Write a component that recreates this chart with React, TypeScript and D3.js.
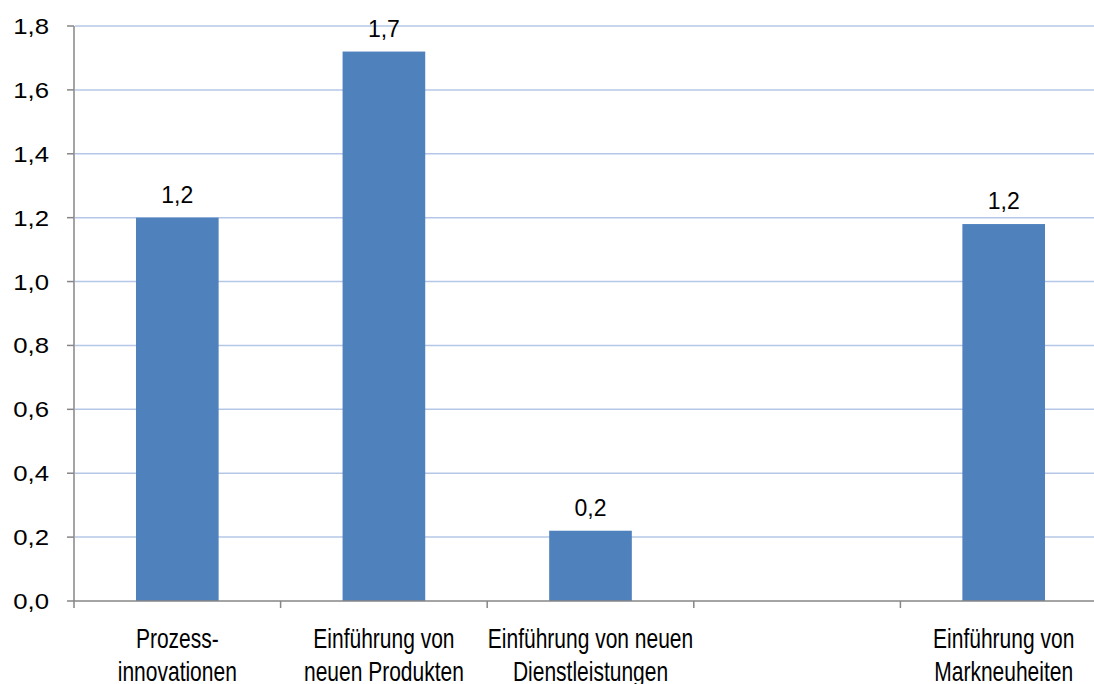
import React from "react";
import * as d3 from "d3";

const categories: string[][] = [
  ["Prozess-", "innovationen"],
  ["Einführung von", "neuen Produkten"],
  ["Einführung von neuen", "Dienstleistungen"],
  [""],
  ["Einführung von", "Markneuheiten"],
];
const values: (number | null)[] = [1.2, 1.72, 0.22, null, 1.18];
const valueLabels: string[] = ["1,2", "1,7", "0,2", "", "1,2"];
const yTicks: number[] = [0, 0.2, 0.4, 0.6, 0.8, 1.0, 1.2, 1.4, 1.6, 1.8];

const W = 1094;
const H = 684;
const left = 74;
const right = 1107;
const top = 26;
const bottom = 601;

export default function App() {
  const idx = categories.map((_, i) => i);
  const x = d3
    .scaleBand<number>()
    .domain(idx)
    .range([left, right])
    .paddingInner(0.6)
    .paddingOuter(0.3);
  const step = (right - left) / categories.length;
  const y = d3.scaleLinear().domain([0, 1.8]).range([bottom, top]);
  const fmt = (v: number) => d3.format(".1f")(v).replace(".", ",");
  const font = "'Liberation Sans', Arial, sans-serif";

  return (
    <svg
      width={W}
      height={H}
      style={{ position: "absolute", left: 0, top: 0, background: "#fff" }}
    >
      {yTicks
        .filter((t) => t > 0)
        .map((t) => (
          <line
            key={"g" + t}
            x1={left + 1}
            x2={W}
            y1={y(t)}
            y2={y(t)}
            stroke="#b4c7e7"
            strokeWidth={1.5}
          />
        ))}
      {values.map((v, i) =>
        v == null ? null : (
          <rect
            key={"b" + i}
            x={x(i)!}
            y={y(v)}
            width={x.bandwidth()}
            height={y(0) - y(v)}
            fill="#4f81bd"
          />
        )
      )}
      {values.map((v, i) =>
        v == null ? null : (
          <text
            key={"v" + i}
            x={x(i)! + x.bandwidth() / 2}
            y={y(v) - 15}
            textAnchor="middle"
            fontFamily={font}
            fontSize={23}
            fill="#000"
          >
            {valueLabels[i]}
          </text>
        )
      )}
      <line x1={left} x2={left} y1={top} y2={bottom} stroke="#868686" strokeWidth={1.5} />
      {yTicks.map((t) => (
        <g key={"t" + t}>
          <line x1={left - 7} x2={left} y1={y(t)} y2={y(t)} stroke="#868686" strokeWidth={1.5} />
          <text
            transform={`translate(49,${y(t) + 8}) scale(1.12,1)`}
            textAnchor="end"
            fontFamily={font}
            fontSize={23}
            fill="#000"
          >
            {fmt(t)}
          </text>
        </g>
      ))}
      <line x1={left} x2={W} y1={bottom} y2={bottom} stroke="#868686" strokeWidth={1.5} />
      {idx.map((i) => (
        <line
          key={"xt" + i}
          x1={left + i * step}
          x2={left + i * step}
          y1={bottom}
          y2={bottom + 7}
          stroke="#868686"
          strokeWidth={1.5}
        />
      ))}
      {categories.map((lines, i) =>
        lines.map((ln, j) => (
          <text
            key={"c" + i + "_" + j}
            transform={`translate(${x(i)! + x.bandwidth() / 2},${648 + j * 33}) scale(0.75,1)`}
            textAnchor="middle"
            fontFamily={font}
            fontSize={28}
            fill="#000"
          >
            {ln}
          </text>
        ))
      )}
    </svg>
  );
}
